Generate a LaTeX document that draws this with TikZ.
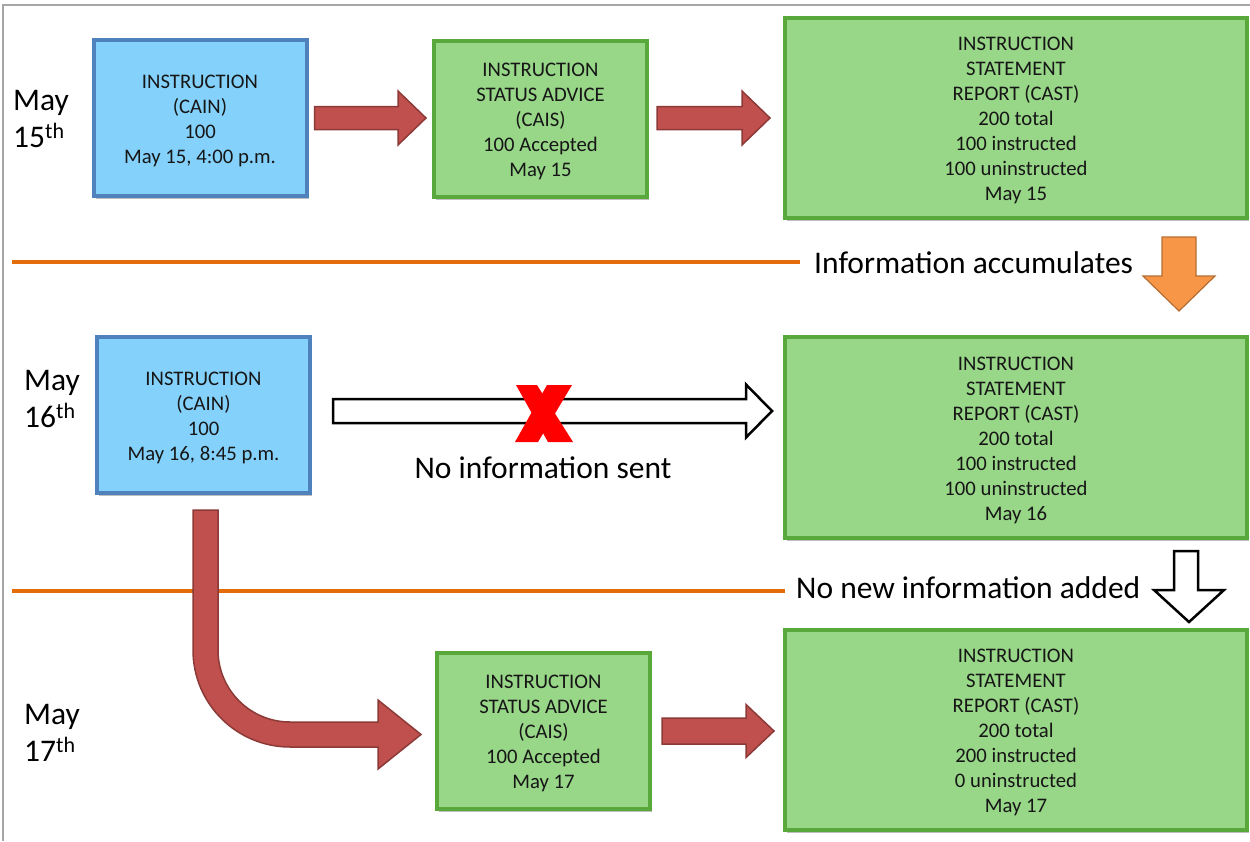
\documentclass[tikz,border=0pt]{standalone}
\usepackage{fontspec}
\setmainfont{Carlito}
\usetikzlibrary{calc,shadows}
\definecolor{bluefill}{HTML}{84D2FC}
\definecolor{blueline}{HTML}{4F81BD}
\definecolor{greenfill}{HTML}{98D688}
\definecolor{greenline}{HTML}{58A83B}
\definecolor{arrowred}{HTML}{C0504D}
\definecolor{arrowredline}{HTML}{8C3A38}
\definecolor{orangeline}{HTML}{E46C0A}
\definecolor{orangefill}{HTML}{F79646}
\definecolor{orangedark}{HTML}{B66D31}
\definecolor{framegray}{HTML}{A6A6A6}
\definecolor{textgray}{HTML}{161616}
\newcommand{\boxfont}{\fontsize{20.7}{25}\selectfont}
\newcommand{\bigfont}{\fontsize{31.5}{37}\selectfont}
\newcommand{\fl}{\rule{0pt}{19pt}}
\tikzset{
  box/.style={draw, line width=4pt, align=center, inner sep=0pt, text=textgray, font=\boxfont,
    drop shadow={shadow xshift=2pt, shadow yshift=-2.5pt, opacity=0.25, fill=black}},
  bluebox/.style={box, fill=bluefill, draw=blueline},
  greenbox/.style={box, fill=greenfill, draw=greenline},
  smallbox/.style={minimum width=213pt, minimum height=156pt},
  widebox/.style={minimum width=462pt, minimum height=200pt},
  redarrow/.style={fill=arrowred, draw=arrowredline, line width=1.5pt, line join=miter},
  whitearrow/.style={fill=white, draw=black, line width=2.5pt, line join=miter},
  orangearrow/.style={fill=orangefill, draw=orangedark, line width=1.2pt, line join=miter},
  sepline/.style={draw=orangeline, line width=4pt},
  datelabel/.style={align=left, anchor=west, inner sep=0pt, font=\bigfont, text=black},
  biglabel/.style={inner sep=0pt, font=\bigfont, text=black},
}
\begin{document}
\begin{tikzpicture}[x=1pt,y=-1pt]
\useasboundingbox (0,0) rectangle (1250,841);
% frame
\draw[framegray, line width=2pt] (3,841) -- (3,5) -- (1250,5);

% separators
\draw[sepline] (12,262) -- (800,262);
\draw[sepline] (12,591) -- (785,591);

% date labels
\node[datelabel] (d15) at (13,119) {May\\15\textsuperscript{th}};
\node[datelabel] (d16) at (24,399) {May\\16\textsuperscript{th}};
\node[datelabel] (d17) at (24,733) {May\\17\textsuperscript{th}};

% boxes
\node[bluebox, smallbox] (b1) at (200,118) {\fl INSTRUCTION\\(CAIN)\\100\\May 15, 4:00 p.m.};
\node[greenbox, smallbox] (b2) at (540.5,119) {\fl INSTRUCTION\\STATUS ADVICE\\(CAIS)\\100 Accepted\\May 15};
\node[greenbox, widebox] (b3) at (1016,118) {\fl INSTRUCTION\\STATEMENT\\REPORT (CAST)\\200 total\\100 instructed\\100 uninstructed\\May 15};
\node[bluebox, smallbox] (b4) at (203.5,415) {\fl INSTRUCTION\\(CAIN)\\100\\May 16, 8:45 p.m.};
\node[greenbox, widebox, minimum height=201pt] (b5) at (1016,437.5) {\fl INSTRUCTION\\STATEMENT\\REPORT (CAST)\\200 total\\100 instructed\\100 uninstructed\\May 16};
\node[greenbox, smallbox] (b6) at (543.5,731) {\fl INSTRUCTION\\STATUS ADVICE\\(CAIS)\\100 Accepted\\May 17};
\node[greenbox, widebox] (b7) at (1016,730) {\fl INSTRUCTION\\STATEMENT\\REPORT (CAST)\\200 total\\200 instructed\\0 uninstructed\\May 17};

% straight red arrows
\draw[redarrow] let \p1=($(b1.east)+(6,0)$), \p2=($(b2.west)+(-6,0)$) in
  (\x1,\y1+11.5) -- (\x2-28,\y1+11.5) -- (\x2-28,\y1+27) -- (\x2,\y1) -- (\x2-28,\y1-27) -- (\x2-28,\y1-11.5) -- (\x1,\y1-11.5) -- cycle;
\draw[redarrow] let \p1=($(b2.east)+(8,-1)$), \p2=($(b3.west)+(-13,0)$) in
  (\x1,\y1+11.5) -- (\x2-28,\y1+11.5) -- (\x2-28,\y1+27) -- (\x2,\y1) -- (\x2-28,\y1-27) -- (\x2-28,\y1-11.5) -- (\x1,\y1-11.5) -- cycle;
\draw[redarrow] let \p1=($(b6.east)+(10,0)$), \p2=($(b7.west)+(-9,0)$) in
  (\x1,\y1+13) -- (\x2-28,\y1+13) -- (\x2-28,\y1+26.5) -- (\x2,\y1) -- (\x2-28,\y1-26.5) -- (\x2-28,\y1-13) -- (\x1,\y1-13) -- cycle;

% curved red arrow from b4 to b6
\coordinate (c4) at ($(b4.south)+(2,15)$);
\coordinate (c6) at ($(b6.west)+(-14,3.5)$);
\draw[redarrow] let \p1=(c4), \p2=(c6) in
  (\x1-12.5,\y1) -- (\x1-12.5,\y2+84.5)
  arc[start angle=180, end angle=270, radius=97pt]
  -- (\x2-43,\y2-12.5) -- (\x2-43,\y2-34.5) -- (\x2,\y2) -- (\x2-43,\y2+34.5) -- (\x2-43,\y2+12.5)
  -- (\x1+84.5,\y2+12.5)
  arc[start angle=270, end angle=180, radius=72pt]
  -- (\x1+12.5,\y1) -- cycle;

% white arrow b4 -> b5 (not sent)
\draw[whitearrow] let \p1=($(b4.east)+(21,-4)$), \p2=($(b5.west)+(-11,-4)$) in
  (\x1,\y1+12) -- (\x2-26,\y1+12) -- (\x2-26,\y1+26.5) -- (\x2,\y1) -- (\x2-26,\y1-26.5) -- (\x2-26,\y1-12) -- (\x1,\y1-12) -- cycle;

% red X
\fill[red] (516,385) -- (537,385) -- (573,442) -- (548,442) -- cycle;
\fill[red] (547,385) -- (572,385) -- (538,442) -- (515,442) -- cycle;

\node[biglabel] (nosent) at (543,468) {No information sent};

% accumulate annotations
\node[biglabel, anchor=west] (accum) at (814,263) {Information accumulates};
\draw[orangearrow] (1162,237) -- (1196,237) -- (1196,276) -- (1215,276) -- (1179,311) -- (1143,276) -- (1162,276) -- cycle;

\node[biglabel, anchor=west] (nonew) at (796,588) {No new information added};
\draw[whitearrow] (1174,551) -- (1198,551) -- (1198,590) -- (1224,590) -- (1189,622) -- (1154,590) -- (1174,590) -- cycle;
\end{tikzpicture}
\end{document}
